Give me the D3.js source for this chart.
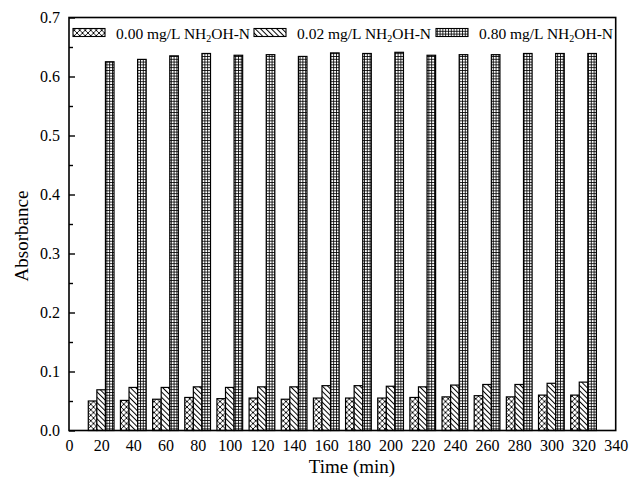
<!DOCTYPE html>
<html><head><meta charset="utf-8">
<script src="https://cdn.jsdelivr.net/npm/d3@7"></script>
<style>body{margin:0;background:#fff}svg{display:block}</style>
</head><body>
<script>
const times = [20,40,60,80,100,120,140,160,180,200,220,240,260,280,300,320];
const s000 = [0.050,0.051,0.053,0.056,0.054,0.055,0.053,0.055,0.055,0.055,0.056,0.057,0.059,0.057,0.060,0.060];
const s002 = [0.069,0.073,0.073,0.074,0.073,0.074,0.074,0.076,0.076,0.075,0.074,0.077,0.078,0.078,0.080,0.082];
const s080 = [0.625,0.629,0.635,0.639,0.636,0.637,0.634,0.640,0.639,0.641,0.636,0.637,0.637,0.639,0.639,0.639];
const seriesNames = ["0.00 mg/L NH|2|OH-N","0.02 mg/L NH|2|OH-N","0.80 mg/L NH|2|OH-N"];
const xTicks = d3.range(0,341,20);
const yTicks = d3.range(0,0.71,0.1);
const yMinor = d3.range(0.05,0.7,0.1);

const W=631,H=479;
const svg=d3.select("body").append("svg").attr("width",W).attr("height",H);
const L=69,R=615.7,T=17.5,B=430.5;
const x=d3.scaleLinear().domain([0,340]).range([L,R]);
const y=d3.scaleLinear().domain([0,0.7]).range([B,T]);
const font="'Liberation Serif','Times New Roman',serif";

const defs=svg.append("defs");
const p1=defs.append("pattern").attr("id","pCross").attr("patternUnits","userSpaceOnUse").attr("width",5.5).attr("height",5.5);
p1.append("rect").attr("width",5.5).attr("height",5.5).attr("fill","#fff");
p1.append("path").attr("d","M0,0L5.5,5.5M5.5,0L0,5.5").attr("stroke","#000").attr("stroke-width",0.9);
const p2=defs.append("pattern").attr("id","pDiag").attr("patternUnits","userSpaceOnUse").attr("width",3.8).attr("height",10).attr("patternTransform","rotate(-45)");
p2.append("rect").attr("width",3.8).attr("height",10).attr("fill","#fff");
p2.append("line").attr("x1",0.5).attr("x2",0.5).attr("y1",0).attr("y2",10).attr("stroke","#000").attr("stroke-width",1);
const p3=defs.append("pattern").attr("id","pGrid").attr("patternUnits","userSpaceOnUse").attr("width",2.8).attr("height",2.8);
p3.append("rect").attr("width",2.8).attr("height",2.8).attr("fill","#fff");
p3.append("path").attr("d","M0,0.4H2.8M0.4,0V2.8").attr("stroke","#000").attr("stroke-width",0.9);

const fills=["url(#pCross)","url(#pDiag)","url(#pGrid)"];
const series=[s000,s002,s080];
const bw=16/3;
series.forEach((vals,si)=>{
  svg.append("g").selectAll("rect").data(times).join("rect")
    .attr("x",(t)=>x(t-8+si*bw))
    .attr("width",(t)=>x(t-8+(si+1)*bw)-x(t-8+si*bw))
    .attr("y",(t,i)=>y(vals[i]))
    .attr("height",(t,i)=>y(0)-y(vals[i]))
    .attr("fill",fills[si]).attr("stroke","#000").attr("stroke-width",1.2);
});

svg.append("rect").attr("x",L).attr("y",T).attr("width",R-L).attr("height",B-T)
  .attr("fill","none").attr("stroke","#000").attr("stroke-width",1.6);

const ya=svg.append("g").attr("transform",`translate(${L},0)`)
  .call(d3.axisLeft(y).tickValues(yTicks).tickFormat(d3.format(".1f")).tickSizeInner(-6).tickSizeOuter(0).tickPadding(9));
ya.select(".domain").remove();
ya.selectAll("line").attr("stroke","#000").attr("stroke-width",1.4);
ya.selectAll("text").attr("font-family",font).attr("font-size",16).attr("fill","#000");
const ym=svg.append("g").attr("transform",`translate(${L},0)`)
  .call(d3.axisLeft(y).tickValues(yMinor).tickFormat("").tickSizeInner(-4).tickSizeOuter(0));
ym.select(".domain").remove();
ym.selectAll("line").attr("stroke","#000").attr("stroke-width",1.4);

const xa=svg.append("g").attr("transform",`translate(0,${B})`)
  .call(d3.axisBottom(x).tickValues(xTicks).tickFormat(d3.format("d")).tickSize(0).tickPadding(9));
xa.select(".domain").remove();
xa.selectAll("text").attr("font-family",font).attr("font-size",16).attr("fill","#000");

svg.append("text").attr("x",352).attr("y",473).attr("text-anchor","middle")
  .attr("font-family",font).attr("font-size",19).text("Time (min)");
svg.append("text").attr("transform","translate(28,236) rotate(-90)").attr("text-anchor","middle")
  .attr("font-family",font).attr("font-size",19).text("Absorbance");

const legX=[73,254,436];
seriesNames.forEach((nm,i)=>{
  const g=svg.append("g");
  g.append("rect").attr("x",legX[i]).attr("y",28.5).attr("width",32).attr("height",8)
    .attr("fill",fills[i]).attr("stroke","#000").attr("stroke-width",1.1);
  const parts=nm.split("|");
  const t=g.append("text").attr("x",legX[i]+43).attr("y",38.5).attr("font-family",font).attr("font-size",15.5);
  t.append("tspan").text(parts[0]);
  t.append("tspan").attr("font-size",10).attr("dy",3).text(parts[1]);
  t.append("tspan").attr("dy",-3).text(parts[2]);
});
</script>
</body></html>
